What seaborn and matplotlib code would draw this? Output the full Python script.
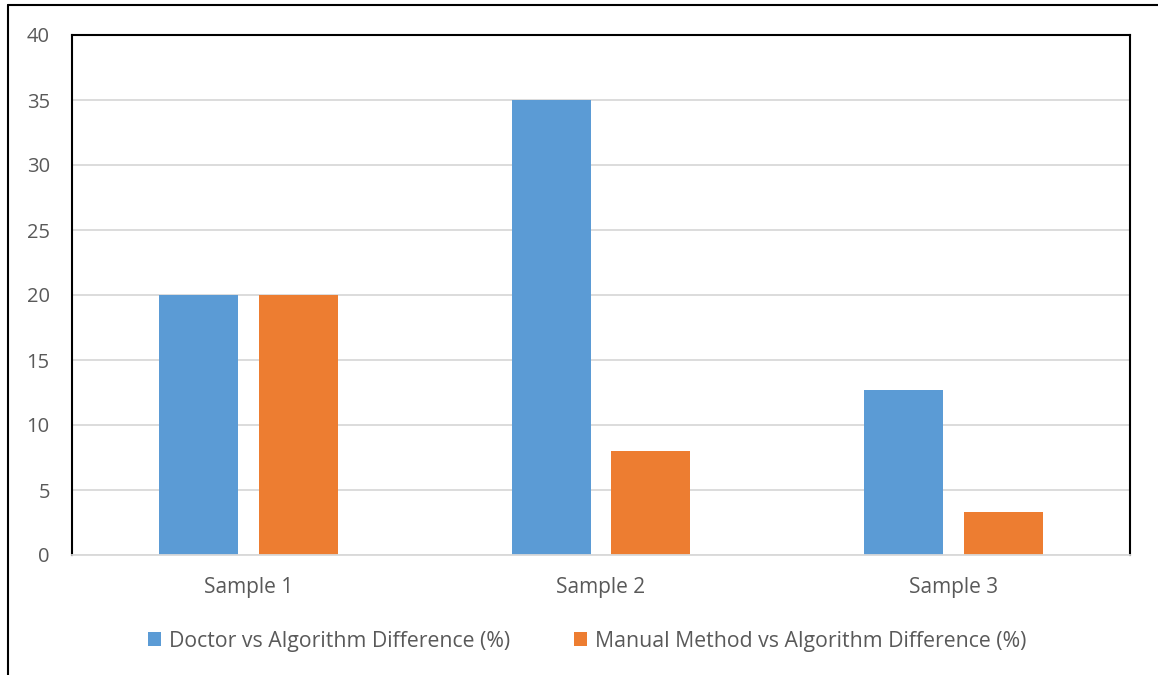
import matplotlib
matplotlib.use("Agg")
import matplotlib.pyplot as plt
import seaborn as sns
import pandas as pd
from matplotlib.lines import Line2D
from matplotlib.patches import Patch

categories = ["Sample 1", "Sample 2", "Sample 3"]
series_names = ["Doctor vs Algorithm Difference (%)", "Manual Method vs Algorithm Difference (%)"]
doctor_vals = [20, 35, 12.7]
manual_vals = [20, 8, 3.3]
yticks = [0, 5, 10, 15, 20, 25, 30, 35, 40]
colors = ["#5B9BD5", "#ED7D31"]

df = pd.DataFrame({
    "Sample": categories * 2,
    "Series": [series_names[0]] * 3 + [series_names[1]] * 3,
    "Value": doctor_vals + manual_vals,
})

sns.set_theme(style="white")
plt.rcParams["font.family"] = ["Open Sans", "DejaVu Sans"]
text_color = "#595959"

fig = plt.figure(figsize=(11.58, 6.75), dpi=100)
ax = fig.add_axes([72 / 1158, 1 - 555 / 675, (1130 - 72) / 1158, (555 - 35) / 675])

sns.barplot(data=df, x="Sample", y="Value", hue="Series", palette=colors,
            width=0.567, gap=0.21, ax=ax, legend=False, saturation=1,
            edgecolor="none", linewidth=0, zorder=3)

ax.set_xlim(-0.5, 2.5)
ax.set_ylim(0, 40)
ax.set_yticks(yticks)
ax.set_yticklabels([str(t) for t in yticks])
ax.grid(axis="y", color="#D9D9D9", linewidth=1.3, zorder=0)
ax.set_axisbelow(True)
ax.set_xlabel("")
ax.set_ylabel("")
ax.tick_params(axis="y", length=0, pad=16, labelsize=14.5, labelcolor=text_color)
ax.tick_params(axis="x", length=0, pad=16, labelsize=15, labelcolor=text_color)
for s in ["left", "top", "right"]:
    ax.spines[s].set_color("black")
    ax.spines[s].set_linewidth(1.5)
ax.spines["bottom"].set_color("#D9D9D9")
ax.spines["bottom"].set_linewidth(1.3)
ax.spines["bottom"].set_zorder(4)

handles = [Patch(facecolor=c, edgecolor="none") for c in colors]
fig.legend(handles, series_names, loc="center", bbox_to_anchor=(0.507, 1 - 641 / 675),
           ncol=2, frameon=False, fontsize=15.3, labelcolor=text_color,
           handlelength=0.6, handleheight=0.6, handletextpad=0.38, columnspacing=3.0)

# outer frame (left and top edges)
fig.add_artist(Line2D([8 / 1158, 8 / 1158], [0, 1 - 5 / 675], color="black", linewidth=1.5,
                      transform=fig.transFigure))
fig.add_artist(Line2D([8 / 1158, 1], [1 - 5 / 675, 1 - 5 / 675], color="black", linewidth=1.5,
                      transform=fig.transFigure))

fig.savefig("out.png", dpi=100, facecolor="white")
